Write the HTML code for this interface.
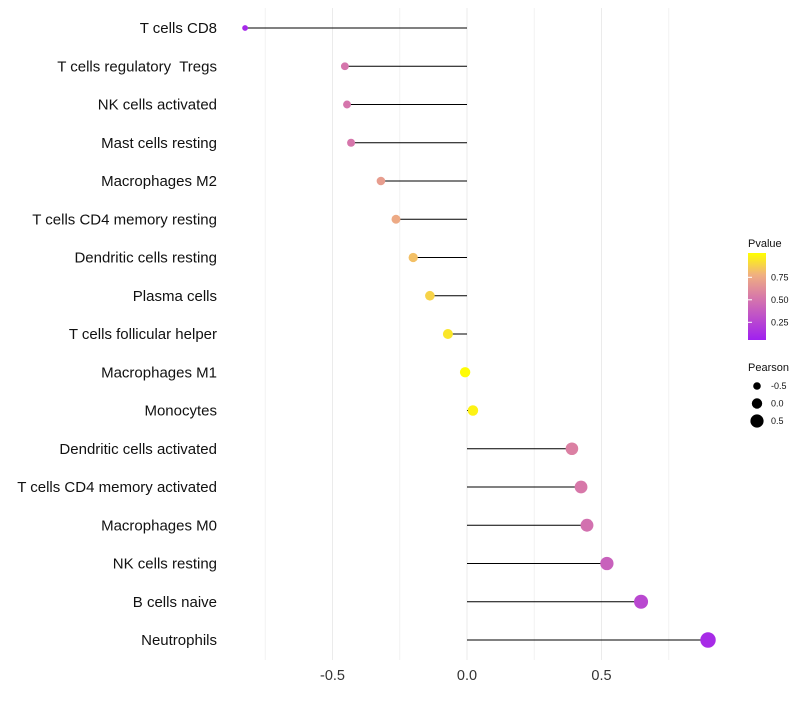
<!DOCTYPE html>
<html><head><meta charset="utf-8"><style>
body{margin:0;background:#fff;font-family:"Liberation Sans",sans-serif}
text{white-space:pre}
</style></head><body>
<svg id="c" width="800" height="700" xmlns="http://www.w3.org/2000/svg">
<defs><linearGradient id="pg" x1="0" y1="1" x2="0" y2="0">
<stop offset="0" stop-color="#a020f0"/><stop offset="0.5" stop-color="#d87aa8"/><stop offset="0.75" stop-color="#f0b080"/><stop offset="1" stop-color="#ffff00"/></linearGradient></defs>
</svg>
<script>
const cells=["T cells CD8","T cells regulatory  Tregs","NK cells activated","Mast cells resting","Macrophages M2","T cells CD4 memory resting","Dendritic cells resting","Plasma cells","T cells follicular helper","Macrophages M1","Monocytes","Dendritic cells activated","T cells CD4 memory activated","Macrophages M0","NK cells resting","B cells naive","Neutrophils"];
const pearson=[-0.825,-0.454,-0.446,-0.431,-0.32,-0.264,-0.2,-0.138,-0.071,-0.007,0.022,0.39,0.424,0.446,0.52,0.647,0.896];
const pvalue=[0.05,0.47,0.47,0.48,0.66,0.72,0.8,0.86,0.92,0.99,0.96,0.53,0.49,0.45,0.36,0.22,0.06];
const xticks=[-0.5,0,0.5];
const xtickLabels=["-0.5","0.0","0.5"];
const gridMinor=[-0.75,-0.25,0.25,0.75];
const legP=[0.75,0.5,0.25], legPL=["0.75","0.50","0.25"];
const legS=[-0.5,0,0.5], legSL=["-0.5","0.0","0.5"];
const svg=document.getElementById('c'),NS="http://www.w3.org/2000/svg";
const X=v=>467+v*269, Y=i=>28+i*38.25, R=v=>5.2+2.8*v;
function col(p){const st=[[0,[160,32,240]],[0.5,[216,122,168]],[0.75,[240,176,128]],[1,[255,255,0]]];
 for(let k=1;k<st.length;k++){if(p<=st[k][0]){const a=st[k-1],b=st[k],t=(p-a[0])/(b[0]-a[0]);return`rgb(${a[1].map((c,j)=>Math.round(c+(b[1][j]-c)*t)).join(',')})`;}}return"rgb(255,255,0)";}
function el(t,a,txt){const e=document.createElementNS(NS,t);for(const k in a)e.setAttribute(k,a[k]);if(txt!==undefined)e.textContent=txt;svg.appendChild(e);return e;}
gridMinor.forEach(v=>{const g=el('line',{x1:X(v),x2:X(v),y1:8,y2:660,stroke:'#f2f2f2','stroke-width':1});
});
xticks.forEach((v,i)=>{const g=el('line',{x1:X(v),x2:X(v),y1:8,y2:660,stroke:'#ebebeb','stroke-width':1});

const t=el('text',{x:X(v),y:680,'text-anchor':'middle','font-size':14.5,fill:'#333'},xtickLabels[i]);
});
cells.forEach((c,i)=>{const y=Y(i);
const l=el('text',{x:217,y:y+5,'text-anchor':'end','font-size':15,fill:'#111'},c);

const s=el('line',{x1:X(0),x2:X(pearson[i]),y1:y,y2:y,stroke:'#000','stroke-width':1});

const d=el('circle',{cx:X(pearson[i]),cy:y,r:R(pearson[i]),fill:col(pvalue[i])});
});
const t1=el('text',{x:748,y:247,'font-size':11,fill:'#111'},'Pvalue');
const cb=el('rect',{x:748,y:253,width:18,height:87,fill:'url(#pg)'});
legP.forEach((p,i)=>{const y=253+(1.02-p)*90;
const k=el('line',{x1:748,x2:752,y1:y,y2:y,stroke:'#fff'});
const t=el('text',{x:771,y:y+3,'font-size':9,fill:'#111'},legPL[i]);});
const t2=el('text',{x:748,y:371,'font-size':11,fill:'#111'},'Pearson');
legS.forEach((v,i)=>{const y=386+i*17.5;
const c=el('circle',{cx:757,cy:y,r:R(v),fill:'#000'});
const t=el('text',{x:771,y:y+3,'font-size':9,fill:'#111'},legSL[i]);});
</script>
</body></html>
